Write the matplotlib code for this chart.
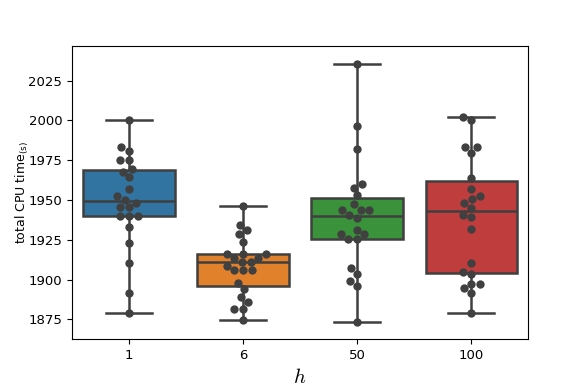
import matplotlib

matplotlib.use("Agg")
import matplotlib.pyplot as plt
import numpy as np
import pandas as pd
import seaborn as sns

# values
categories = ["1", "6", "50", "100"]
h_1 = [2000, 1983.3, 1980.8, 1975.4, 1975.4, 1969.2, 1967.7, 1964.2, 1956.9,
       1952.3, 1950, 1948.3, 1945.4, 1945.4, 1940, 1940, 1940, 1933.3, 1923.3,
       1910.4, 1891.3, 1878.8]
h_6 = [1946.3, 1934.4, 1931.3, 1928.5, 1923.8, 1916.3, 1916.3, 1916.3, 1913.5,
       1913.5, 1911, 1911, 1908.8, 1905.8, 1905.8, 1905.8, 1898, 1894.2, 1889.2,
       1886, 1881.7, 1881.7, 1874.6]
h_50 = [2035.6, 1996.7, 1982.3, 1959.8, 1957.7, 1952.9, 1947.3, 1943.8, 1943.8,
        1943.8, 1940.8, 1939, 1931.3, 1928.8, 1928.8, 1925.8, 1925.8, 1907.3,
        1903.8, 1899.2, 1895.8, 1873.3]
h_100 = [2002.5, 2000, 1983.3, 1983.3, 1979.6, 1964, 1956.7, 1952.5, 1950.4,
         1948.3, 1945.2, 1940.4, 1939.2, 1931.9, 1910.4, 1905, 1903.8, 1897.3,
         1897.3, 1894.6, 1891.7, 1879.2]

COLORS = ["#3274a1", "#e1812c", "#3a923a", "#c03d3e"]
EDGE = "#3f3f3f"

groups = [h_1, h_6, h_50, h_100]
df = pd.DataFrame({
    "h": np.repeat(categories, [len(g) for g in groups]),
    "t": np.concatenate(groups),
})

fig = plt.figure(figsize=(5.81, 3.88), dpi=100)
ax = fig.add_axes([0.124, 0.126, 0.785, 0.755])

line = dict(color=EDGE, linewidth=1.8)
bp = ax.boxplot(
    groups,
    positions=range(len(groups)),
    widths=0.8,
    whis=(0, 100),
    patch_artist=True,
    showfliers=False,
    medianprops=line,
    whiskerprops=line,
    capprops=line,
    boxprops=dict(edgecolor=EDGE, linewidth=1.8),
)
for patch, color in zip(bp["boxes"], COLORS):
    patch.set_facecolor(color)
for cap in bp["caps"]:
    x0, x1 = cap.get_xdata()
    mid = (x0 + x1) / 2
    cap.set_xdata([mid - 0.2, mid + 0.2])

sns.swarmplot(data=df, x="h", y="t", order=categories, color=".25", size=6,
              ax=ax, zorder=5)

ax.set_xlim(-0.5, 3.5)
ax.set_ylim(1862.6, 2046.7)
ax.set_xticks(range(len(categories)))
ax.set_xticklabels(categories)
ax.tick_params(labelsize=9.5)
ax.set_xlabel("$h$", fontsize=15, math_fontfamily="cm")
ax.set_ylabel(r"total CPU time$\mathregular{_{(s)}}$", fontsize=9)
ax.yaxis.set_label_coords(-0.09, 0.5)

plt.savefig("out.png", dpi=100)
plt.close()
